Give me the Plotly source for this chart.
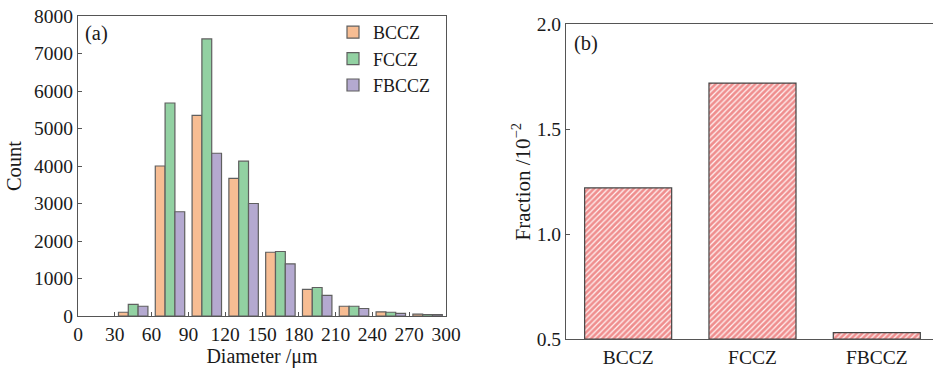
import plotly.graph_objects as go

# ---- data ----
bin_centers = [45, 75, 105, 135, 165, 195, 225, 255, 285]  # Diameter bins (µm), 30 µm wide
bccz_counts = [100, 4000, 5350, 3670, 1700, 710, 260, 110, 50]
fccz_counts = [310, 5680, 7390, 4130, 1720, 760, 260, 100, 40]
fbccz_counts = [260, 2780, 4340, 3000, 1390, 550, 200, 70, 35]

samples = ["BCCZ", "FCCZ", "FBCCZ"]
fractions = [1.22, 1.72, 0.53]  # Fraction /10^-2

x_ticks = [0, 30, 60, 90, 120, 150, 180, 210, 240, 270, 300]
y_ticks_a = [0, 1000, 2000, 3000, 4000, 5000, 6000, 7000, 8000]
y_ticks_b = [0.5, 1.0, 1.5, 2.0]

# ---- style ----
FONT = "Liberation Serif"
TXT = "#1a1a1a"
AX = "#555555"
EDGE = "#5f5f5f"
colors = {"BCCZ": "#f7bd93", "FCCZ": "#92d1a2", "FBCCZ": "#b4a9d0"}

fig = go.Figure()
for name, vals in [("BCCZ", bccz_counts), ("FCCZ", fccz_counts), ("FBCCZ", fbccz_counts)]:
    fig.add_trace(go.Bar(
        x=bin_centers, y=vals, name=name,
        marker=dict(color=colors[name], line=dict(color=EDGE, width=1.2)),
        xaxis="x", yaxis="y",
    ))

fig.add_trace(go.Bar(
    x=samples, y=[f - 0.5 for f in fractions], base=0.5, width=0.70,
    showlegend=False,
    marker=dict(
        color="white",
        line=dict(color="#444444", width=1.2),
        pattern=dict(shape="/", fgcolor="#e02828", bgcolor="#fff4f4", size=4, solidity=0.7),
    ),
    xaxis="x2", yaxis="y2",
))

axis_common = dict(
    showgrid=False, zeroline=False, showline=True, linecolor=AX, linewidth=1.2,
    ticks="inside", ticklen=4, tickcolor=AX, automargin=False,
    tickfont=dict(family=FONT, size=19.5, color=TXT),
)

fig.update_layout(
    width=933, height=368,
    margin=dict(l=0, r=0, t=0, b=0),
    paper_bgcolor="white", plot_bgcolor="white",
    barmode="group", bargap=0.2, bargroupgap=0,
    font=dict(family=FONT, color=TXT),
    xaxis=dict(
        domain=[78 / 933, 446 / 933], range=[0, 300], tickvals=x_ticks,
        mirror=True, anchor="y",
        title=dict(text="Diameter /μm", font=dict(family=FONT, size=20, color=TXT), standoff=4),
        **axis_common,
    ),
    yaxis=dict(
        domain=[1 - 316 / 368, 1 - 16 / 368], range=[0, 8000], tickvals=y_ticks_a,
        mirror=True, anchor="x",
        title=dict(text="Count", font=dict(family=FONT, size=20.5, color=TXT), standoff=6),
        **axis_common,
    ),
    xaxis2=dict(
        domain=[566 / 933, 1.0], range=[-0.5, 2.452], type="category",
        mirror=True, anchor="y2", automargin=False,
        showgrid=False, zeroline=False, showline=True, linecolor=AX, linewidth=1.2,
        ticks="", tickfont=dict(family=FONT, size=19.5, color=TXT),
    ),
    yaxis2=dict(
        domain=[1 - 339 / 368, 1 - 24.3 / 368], range=[0.5, 2.0], tickvals=y_ticks_b,
        tickformat=".1f", mirror=False, anchor="x2",
        title=dict(text="Fraction /10<sup>−2</sup>", font=dict(family=FONT, size=21, color=TXT), standoff=0),
        **axis_common,
    ),
    legend=dict(
        x=333 / 933, xanchor="left", y=1 - 14 / 368, yanchor="top",
        bgcolor="rgba(0,0,0,0)", borderwidth=0,
        font=dict(family=FONT, size=18, color=TXT),
        tracegroupgap=0, itemwidth=30,
    ),
    annotations=[
        dict(text="(a)", x=83 / 933, y=1 - 33 / 368, xref="paper", yref="paper",
             xanchor="left", yanchor="middle", showarrow=False,
             font=dict(family=FONT, size=20.5, color=TXT)),
        dict(text="(b)", x=572 / 933, y=1 - 43 / 368, xref="paper", yref="paper",
             xanchor="left", yanchor="middle", showarrow=False,
             font=dict(family=FONT, size=20.5, color=TXT)),
    ],
)

fig.write_html("out.html")
